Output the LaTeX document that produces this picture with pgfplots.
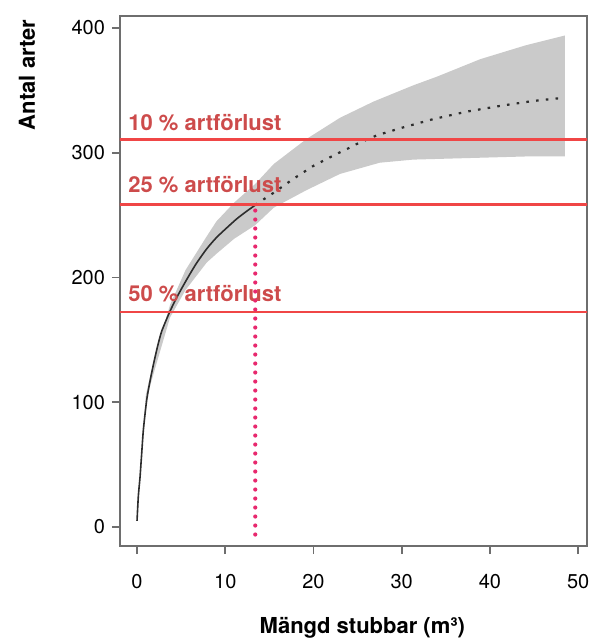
\documentclass[border=0pt]{standalone}
\usepackage{fontspec}
\setmainfont{TeX Gyre Heros}
\usepackage{pgfplots}
\pgfplotsset{compat=1.18}
\definecolor{bandgray}{RGB}{202,202,202}
\definecolor{linered}{RGB}{240,70,70}
\definecolor{textred}{RGB}{205,75,75}
\definecolor{magentadot}{RGB}{232,40,110}
\definecolor{curvecol}{RGB}{45,45,45}
\definecolor{axisgray}{RGB}{110,110,110}
\begin{document}
\begin{tikzpicture}
\begin{axis}[
  scale only axis, width=233.5pt, height=265pt,
  xmin=-1.93, xmax=51, ymin=-15.2, ymax=409.6,
  xtick={0,10,20,30,40,50}, ytick={0,100,200,300,400},
  tick align=outside, major tick length=4pt,
  xtick pos=left, ytick pos=left,
  axis line style={draw=axisgray, line width=0.8pt},
  tick style={draw=axisgray, line width=0.8pt},
  ticklabel style={font=\fontsize{10}{12}\selectfont},
  xticklabel style={yshift=-6.5pt},
  /pgf/number format/assume math mode=true,
  xlabel={Mängd stubbar (m³)}, ylabel={Antal arter},
  label style={font=\bfseries\fontsize{11}{13}\selectfont},
  xlabel style={at={(axis description cs:0.519,-0.1547)}, anchor=center},
  ylabel style={at={(axis description cs:-0.199,0.889)}, anchor=center},
]
% confidence band: upper edge then lower edge reversed
\addplot[fill=bandgray, draw=none] coordinates {
 (0,5.5) (1,106) (2,136) (3.74,178) (5.5,206) (7.9,233) (9,245) (11,260)
 (13.4,275) (15.5,291) (19.2,311) (23,328) (26.8,341) (31.3,354) (34,361)
 (38.9,375) (44,386) (48.5,394)
 (48.5,297) (44,297) (38.9,296) (31.3,294.5) (27.5,292) (23,283) (19.2,270)
 (15.5,256) (13.4,242) (11,231) (9,219) (7.9,212) (5.5,190) (3.74,168)
 (2,126) (1,101) (0,4.5)
} -- cycle;
% fitted curve, solid part
\addplot[curvecol, line width=0.8pt, smooth, tension=0.4] coordinates {
 (0,5) (0.15,25) (0.34,40) (0.5,56) (0.72,78) (1.1,102) (1.5,118) (1.85,130)
 (2.3,144) (2.8,157) (3.74,173) (4.5,184) (5.6,198) (6.7,211) (7.9,223)
 (9,232) (10.2,240) (11.3,247) (12.4,253) (13.4,258)
};
% fitted curve, extrapolated (dotted) part
\addplot[curvecol, line width=1.1pt, dash pattern=on 1.3pt off 3.6pt] coordinates {
 (13.4,258) (14.1,261.5) (15.5,268) (17.7,279) (20,289.5) (22.6,299) (23.8,303)
 (24.9,307) (27.2,314) (30,320) (33.6,327) (37.4,333) (41.2,337.6)
 (44.9,341.5) (48.3,344)
};
% species loss thresholds
\addplot[linered, line width=1.3pt] coordinates {(-5,310.5) (55,310.5)};
\addplot[linered, line width=1.3pt] coordinates {(-5,258.5) (55,258.5)};
\addplot[linered, line width=1.3pt] coordinates {(-5,172.5) (55,172.5)};
\node[anchor=base west, inner xsep=0pt, text=textred, font=\bfseries\fontsize{11}{13}\selectfont] at (axis cs:-1.02,317.6) {10 \% artförlust};
\node[anchor=base west, inner xsep=0pt, text=textred, font=\bfseries\fontsize{11}{13}\selectfont] at (axis cs:-1.02,268) {25 \% artförlust};
\node[anchor=base west, inner xsep=0pt, text=textred, font=\bfseries\fontsize{11}{13}\selectfont] at (axis cs:-1.02,180.8) {50 \% artförlust};
% vertical marker
\addplot[magentadot, line width=2.1pt, dash pattern=on 0pt off 4.5pt, line cap=round] coordinates {(13.4,-6) (13.4,258)};
\end{axis}
\pgfresetboundingbox
\path[use as bounding box] ([shift={(-60pt,-46pt)}]current axis.south west) rectangle ([shift={(1.5pt,8pt)}]current axis.north east);
\end{tikzpicture}
\end{document}
